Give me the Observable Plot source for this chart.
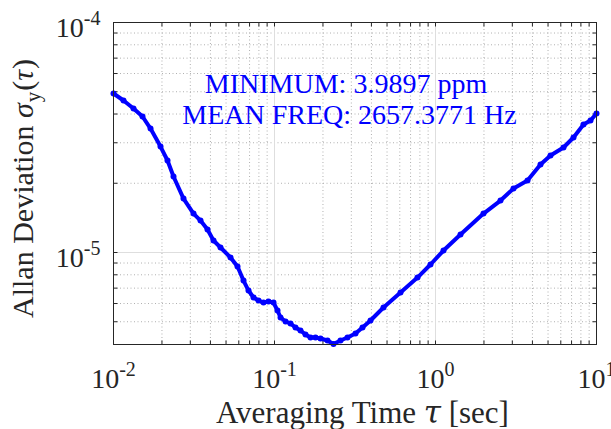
<!DOCTYPE html>
<html><head><meta charset="utf-8">
<script src="https://cdn.jsdelivr.net/npm/d3@7"></script>
<script src="https://cdn.jsdelivr.net/npm/@observablehq/plot@0.6"></script>
<style>body{margin:0;background:#fff}</style>
</head><body><div id="chart"></div>
<script>
const tau = [0.01,0.01154,0.01331,0.01514,0.01698,0.01959,0.02165,0.02359,0.02722,0.0314,0.0347,0.03836,0.04179,0.0462,0.0533,0.05891,0.0642,0.06896,0.07406,0.07954,0.08543,0.09176,0.0986,0.1044,0.109,0.1171,0.1257,0.135,0.145,0.1558,0.1673,0.1797,0.1931,0.2134,0.2325,0.257,0.284,0.3185,0.3521,0.3948,0.4753,0.6064,0.7731,0.9309,1.121,1.43,1.987,2.533,3.051,3.727,4.49,5.18,6.237,7.196,8.304,9.178,10];
const adev = [4.912e-5,4.58e-5,4.227e-5,3.902e-5,3.459e-5,2.889e-5,2.512e-5,2.14e-5,1.716e-5,1.477e-5,1.377e-5,1.259e-5,1.128e-5,1.051e-5,9.512e-6,8.692e-6,7.553e-6,6.834e-6,6.371e-6,6.183e-6,6.061e-6,6.122e-6,6.061e-6,5.593e-6,5.216e-6,5.012e-6,4.913e-6,4.72e-6,4.58e-6,4.4e-6,4.27e-6,4.27e-6,4.227e-6,4.143e-6,4.0e-6,4.143e-6,4.27e-6,4.444e-6,4.72e-6,5.062e-6,5.764e-6,6.698e-6,7.783e-6,8.869e-6,1.02e-5,1.197e-5,1.477e-5,1.682e-5,1.897e-5,2.056e-5,2.413e-5,2.641e-5,2.86e-5,3.162e-5,3.6e-5,3.75e-5,4.02e-5];
const xTicks = [0.01, 0.1, 1, 10];
const yTicks = [1e-5, 1e-4];
const annotation = ["MINIMUM: 3.9897 ppm", "MEAN FREQ: 2657.3771 Hz"];

const data = tau.map((t, i) => ({tau: t, adev: adev[i]}));
const xMinor = [];
for (let e = -2; e <= 0; e++) for (let k = 2; k <= 9; k++) xMinor.push(k * 10 ** e);
const yMinor = [];
for (let k = 5; k <= 9; k++) yMinor.push(k * 1e-6);
for (let k = 2; k <= 9; k++) yMinor.push(k * 1e-5);
const xAll = xTicks.concat(xMinor), yAll = yTicks.concat(yMinor);

// inward tick symbols (line segment from the anchor point)
const seg = (dx, dy) => ({draw(ctx) { ctx.moveTo(0, 0); ctx.lineTo(dx, dy); }});
const axisColor = "#262626";
const tickOpts = {fill: "none", stroke: axisColor, strokeWidth: 1, r: 3};

const font = "'Liberation Serif', 'Times New Roman', serif";
const expFmt = d => String(Math.round(Math.log10(d)));
const svg = Plot.plot({
  width: 611, height: 429,
  marginLeft: 113, marginRight: 15, marginTop: 22, marginBottom: 85,
  style: {fontFamily: font, background: "#fff"},
  x: {type: "log", domain: [0.01, 10]},
  y: {type: "log", domain: [10 ** -5.4, 1e-4]},
  marks: [
    Plot.ruleX(xMinor, {stroke: "#b0b0b0", strokeDasharray: "1,2.5", strokeWidth: 1}),
    Plot.ruleY(yMinor, {stroke: "#b0b0b0", strokeDasharray: "1,2.5", strokeWidth: 1}),
    Plot.ruleX([0.1, 1], {stroke: "#dedede", strokeWidth: 1}),
    Plot.ruleY([1e-5], {stroke: "#dedede", strokeWidth: 1}),
    Plot.dot(yAll, {...tickOpts, x: () => 0.01, y: d => d, symbol: seg(4, 0)}),
    Plot.dot(yAll, {...tickOpts, x: () => 10, y: d => d, symbol: seg(-4, 0)}),
    Plot.dot(xAll, {...tickOpts, x: d => d, y: () => 10 ** -5.4, symbol: seg(0, -4)}),
    Plot.dot(xAll, {...tickOpts, x: d => d, y: () => 1e-4, symbol: seg(0, 4)}),
    Plot.axisX(xTicks, {tickSize: 0, tickPadding: 24, fill: axisColor, label: null, tickFormat: expFmt}),
    Plot.axisY(yTicks, {tickSize: 0, tickPadding: 13, fill: axisColor, label: null, tickFormat: expFmt}),
    Plot.line(data, {x: "tau", y: "adev", stroke: "#0000ff", strokeWidth: 4}),
    Plot.dot(data, {x: "tau", y: "adev", fill: "#0000ff", r: 3}),
    Plot.frame({stroke: axisColor, strokeWidth: 1}),
    Plot.text([annotation[0]], {frameAnchor: "top-left", dx: 345.5 - 113, dy: 51, text: d => d, fill: "#0000ff", fontSize: 28, textAnchor: "middle"}),
    Plot.text([annotation[1]], {frameAnchor: "top-left", dx: 349 - 113, dy: 82, text: d => d, fill: "#0000ff", fontSize: 28, textAnchor: "middle"})
  ]
});

// superscript exponents on tick labels
d3.select(svg).selectAll('g[aria-label="x-axis tick label"] text').each(function() {
  const t = d3.select(this);
  const e = t.text();
  t.text(null).attr("font-size", 28);
  t.append("tspan").text("10");
  t.append("tspan").attr("dy", -12).attr("font-size", 20).text(e);
});
d3.select(svg).selectAll('g[aria-label="y-axis tick label"] text').each(function() {
  const t = d3.select(this);
  const e = t.text();
  t.text(null).attr("font-size", 28);
  t.append("tspan").attr("dy", 6).text("10");
  t.append("tspan").attr("dy", -12).attr("font-size", 20).text(e);
});

const s = d3.select(svg);
s.append("text")
  .attr("x", 216).attr("y", 423)
  .attr("text-anchor", "start")
  .attr("font-size", 31).attr("fill", axisColor).attr("font-family", font)
  .call(t => {
    t.append("tspan").text("Averaging Time ");
    t.append("tspan").attr("font-style", "italic").attr("font-family", "'DejaVu Serif'").attr("font-size", 31).text("τ");
    t.append("tspan").text(" [sec]");
  });
s.append("text")
  .attr("transform", "translate(33,318) rotate(-90)")
  .attr("text-anchor", "start")
  .attr("font-size", 30).attr("fill", axisColor).attr("font-family", font)
  .call(t => {
    t.append("tspan").text("Allan Deviation ");
    t.append("tspan").attr("font-style", "italic").text("σ");
    t.append("tspan").attr("font-size", 21).attr("dy", 7).attr("dx", 1).text("y");
    t.append("tspan").attr("dy", -7).attr("dx", 1).text("(");
    t.append("tspan").attr("font-style", "italic").text("τ");
    t.append("tspan").attr("dx", 1).text(")");
  });

document.getElementById("chart").append(svg);
</script>
</body></html>
